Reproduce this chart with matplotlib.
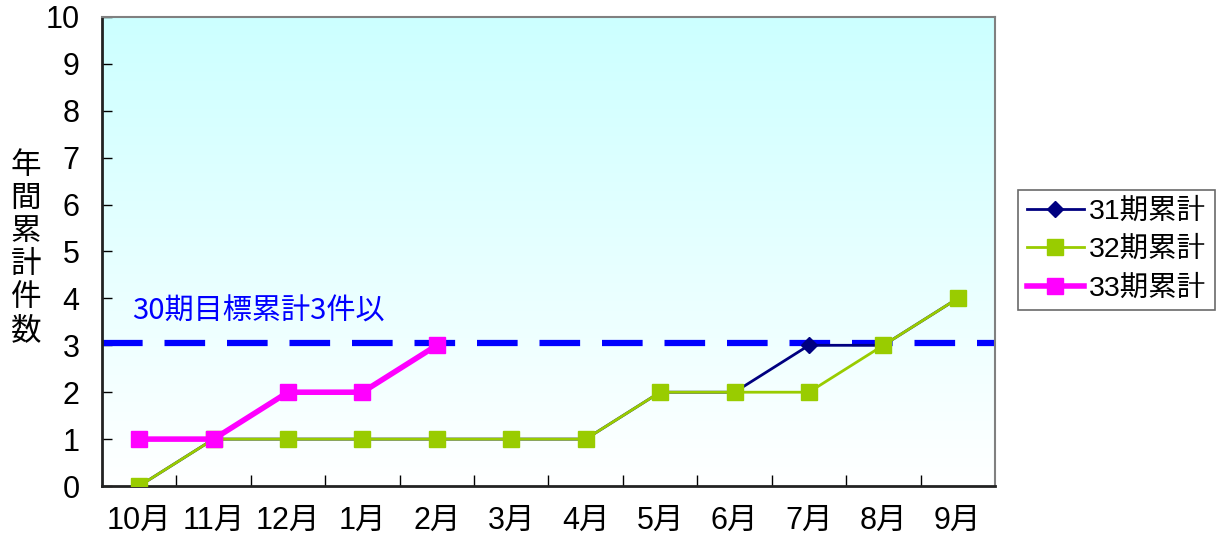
import numpy as np
import matplotlib.pyplot as plt
from matplotlib.colors import LinearSegmentedColormap

months = ['10月', '11月', '12月', '1月', '2月', '3月', '4月', '5月', '6月', '7月', '8月', '9月']
s31 = [0, 1, 1, 1, 1, 1, 1, 2, 2, 3, 3, 4]
s32 = [0, 1, 1, 1, 1, 1, 1, 2, 2, 2, 3, 4]
s33 = [1, 1, 2, 2, 3]
target = 3.05
target_label = '30期目標累計3件以'

fonts = ['Liberation Sans', 'Noto Sans CJK JP', 'DejaVu Sans']
plt.rcParams['font.family'] = fonts

fig = plt.figure(figsize=(12.27, 5.44), dpi=100)
ax = fig.add_axes([0.0831, 0.1066, 0.7278, 0.8622])

# 背景グラデーション
cmap = LinearSegmentedColormap.from_list('bg', ['#FFFFFF', '#CCFFFF'])
grad = np.linspace(0, 1, 256).reshape(-1, 1)
ax.imshow(grad, cmap=cmap, aspect='auto', origin='lower',
          extent=[0, 1, 0, 1], transform=ax.transAxes, zorder=0)

x = np.arange(len(months))
ax.axhline(target, color='#0000FF', lw=4.5, ls=(0, (6.5, 3.5)), zorder=2)
ax.plot(x, s31, color='#000080', lw=2, marker='D', ms=8, label='31期累計', zorder=3)
ax.plot(x, s32, color='#99CC00', lw=2, marker='s', ms=11, label='32期累計', zorder=4)
ax.plot(x[:len(s33)], s33, color='#FF00FF', lw=4, marker='s', ms=11, label='33期累計', zorder=5)

ax.text(-0.1, 3.55, target_label, color='#0000FF', fontsize=21,
        family=['Noto Sans CJK JP', 'DejaVu Sans'], zorder=6)

ax.set_xlim(-0.5, len(months) - 0.5)
ax.set_ylim(0, 10)
ax.set_yticks(range(11))
ax.set_xticks(x)
ax.set_xticklabels(months)
ax.set_xticks(np.arange(0.5, len(months) - 1, 1), minor=True)
ax.tick_params(axis='x', which='major', length=0, pad=14, labelsize=22)
ax.tick_params(axis='x', which='minor', direction='in', length=8, width=1)
ax.tick_params(axis='y', direction='in', length=7, width=1, pad=16, labelsize=22)

for side in ['left', 'bottom']:
    ax.spines[side].set_color('#222222')
    ax.spines[side].set_linewidth(2)
for side in ['top', 'right']:
    ax.spines[side].set_color('#808080')
    ax.spines[side].set_linewidth(1.5)

fig.text(0.021, 0.544, '年\n間\n累\n計\n件\n数', fontsize=22, linespacing=1.08,
         ha='center', va='center', family=['Noto Sans CJK JP', 'DejaVu Sans'])

leg = ax.legend(loc='center left', bbox_to_anchor=(1.0258, 0.503), fontsize=20.5,
                frameon=True, fancybox=False, handlelength=2.0, borderpad=0.3,
                labelspacing=0.42, handletextpad=0.2, borderaxespad=0)
leg.get_frame().set_edgecolor('#444444')
leg.get_frame().set_linewidth(1.2)

fig.savefig('out.png', dpi=100)
